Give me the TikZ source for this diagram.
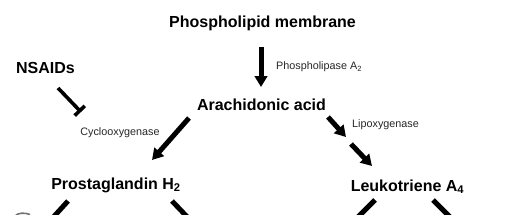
\documentclass[tikz,border=0pt]{standalone}
\usepackage{fontspec}
\setmainfont{Liberation Sans}
\usetikzlibrary{arrows.meta}
\tikzset{
  title/.style={font=\fontsize{16}{18}\selectfont\bfseries, inner sep=0pt, anchor=base},
  enz/.style={font=\fontsize{10.8}{12}\selectfont, inner sep=0pt, text=black!85},
  bigarrow/.style={line width=5pt, -{Triangle[width=12.5pt,length=11pt]}},
  thickline/.style={line width=5pt},
  inhib/.style={line width=3.6pt, -{Bar[width=14pt]}}
}
\begin{document}
\begin{tikzpicture}[x=1pt,y=-1pt]
\useasboundingbox (0,0) rectangle (513,214);
\clip (0,0) rectangle (513,214);
% main labels
\node[title] (pm) at (262.5,27) {Phospholipid membrane};
\node[title] (ns) at (45.5,73) {NSAIDs};
\node[title] (aa) at (261.5,110) {Arachidonic acid};
\node[title] (pg) at (116,189) {Prostaglandin H\textsubscript{2}};
\node[title] (lt) at (407.5,191) {Leukotriene A\textsubscript{4}};
% enzyme labels
\node[enz, anchor=west] (pla) at (276,67) {Phospholipase A\textsubscript{2}};
\node[enz] (cox) at (120,133) {Cyclooxygenase};
\node[enz, anchor=west] (lox) at (352,125) {Lipoxygenase};
% connector end points
\coordinate (pmA) at (261,47);
\coordinate (aaA) at (261,87);
\coordinate (nsA) at (58,88);
\coordinate (nsB) at (81,112);
\coordinate (aaC) at (189,118);
\coordinate (pgA) at (152,160);
\coordinate (aaL) at (328,117);
\coordinate (loxA) at (346,137);
\coordinate (loxB) at (351,144);
\coordinate (ltA) at (372,166);
\coordinate (pgL1) at (68,201);
\coordinate (pgL2) at (48,223);
\coordinate (pgR1) at (172,201);
\coordinate (pgR2) at (193,223);
\coordinate (ltL1) at (375,200);
\coordinate (ltL2) at (353,222);
\coordinate (ltR1) at (433,200);
\coordinate (ltR2) at (455,222);
% connectors
\draw[bigarrow] (pmA) -- (aaA);
\draw[inhib] (nsA) -- (nsB);
\draw[bigarrow] (aaC) -- (pgA);
\draw[bigarrow] (aaL) -- (loxA);
\draw[bigarrow] (loxB) -- (ltA);
\draw[thickline] (pgL1) -- (pgL2);
\draw[thickline] (pgR1) -- (pgR2);
\draw[thickline] (ltL1) -- (ltL2);
\draw[thickline] (ltR1) -- (ltR2);
% partial shape at bottom left
\draw[black!55, line width=1.6pt] (15,216) .. controls (18,212.5) and (25,212.5) .. (30,214.5);
\end{tikzpicture}
\end{document}
